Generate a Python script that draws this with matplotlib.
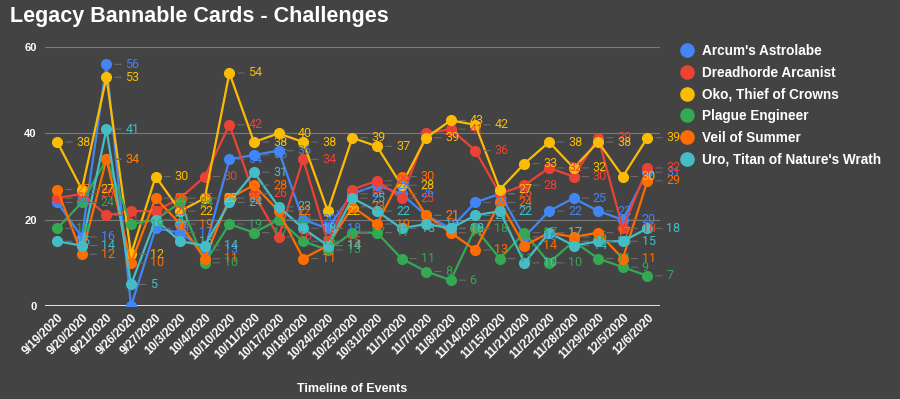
import matplotlib.pyplot as plt
from matplotlib.lines import Line2D

# event dates
dates = ['9/19/2020', '9/20/2020', '9/21/2020', '9/26/2020', '9/27/2020', '10/3/2020',
         '10/4/2020', '10/10/2020', '10/11/2020', '10/17/2020', '10/18/2020', '10/24/2020',
         '10/25/2020', '10/31/2020', '11/1/2020', '11/7/2020', '11/8/2020', '11/14/2020',
         '11/15/2020', '11/21/2020', '11/22/2020', '11/28/2020', '11/29/2020', '12/5/2020',
         '12/6/2020']

arcum = [24, 16, 56, 0, 18, 17, 13, 34, 35, 36, 20, 18, 26, 28, 26, 21, 18, 24, 26, 16, 22, 25, 22, 20, 31]
dreadhorde = [25, 26, 21, 22, 22, 25, 30, 42, 26, 16, 34, 15, 27, 29, 25, 40, 41, 36, 26, 28, 32, 30, 39, 18, 32]
oko = [38, 27, 53, 12, 30, 22, 25, 54, 38, 40, 38, 22, 39, 37, 28, 39, 43, 42, 27, 33, 38, 32, 38, 30, 39]
plague = [18, 24, 34, 19, 20, 24, 10, 19, 17, 20, 15, 13, 17, 17, 11, 8, 6, 18, 11, 17, 10, 15, 11, 9, 7]
veil = [27, 12, 34, 10, 25, 19, 11, 25, 28, 22, 11, 14, 23, 19, 30, 21, 17, 13, 24, 14, 17, 16, 17, 11, 29]
uro = [15, 14, 41, 5, 20, 15, 14, 24, 31, 23, 18, 14, 25, 22, 18, 19, 18, 21, 22, 10, 17, 14, 15, 15, 18]

names = ["Arcum's Astrolabe", 'Dreadhorde Arcanist', 'Oko, Thief of Crowns',
         'Plague Engineer', 'Veil of Summer', "Uro, Titan of Nature's Wrath"]
colors = ['#4285F4', '#EA4335', '#FBBC04', '#34A853', '#FF6D01', '#46BDC6']
series = [arcum, dreadhorde, oko, plague, veil, uro]

bg = '#434343'
plt.rcParams['font.family'] = ['Liberation Sans', 'DejaVu Sans']

fig = plt.figure(figsize=(9, 3.99), dpi=100, facecolor=bg)
ax = fig.add_axes([0.05, 0.233, 0.683, 0.649])
ax.set_facecolor(bg)

x = list(range(len(dates)))
for vals, c in zip(series, colors):
    ax.plot(x, vals, color=c, lw=1.6, marker='o', ms=7, zorder=3)
    for xi, v in zip(x, vals):
        if v == 0:
            continue  # label hidden under the axis in the original
        ax.annotate(str(v), (xi, v), xytext=(19, 0), textcoords='offset pixels',
                    ha='left', va='center', color=c, fontsize=9, family='Roboto',
                    arrowprops=dict(arrowstyle='-', color='#6a6a6a', lw=0.8,
                                    shrinkA=1, shrinkB=6),
                    zorder=4)

ax.set_xlim(-0.5, len(dates) - 0.5)
ax.set_ylim(0, 60)
ax.set_yticks([0, 20, 40, 60])
ax.set_xticks(x)
ax.set_xticklabels(dates, rotation=45, ha='right', rotation_mode='anchor',
                   fontsize=8.5, fontweight='bold', color='white')
for lab in ax.get_yticklabels():
    lab.set_fontweight('bold')
ax.tick_params(axis='y', colors='white', labelsize=8, length=0, pad=6)
ax.tick_params(axis='x', colors='white', length=0, pad=4)
for s in ax.spines.values():
    s.set_visible(False)
ax.grid(axis='y', color='#7a7a7a', lw=0.8, zorder=0)
ax.axhline(0, color='white', lw=1.2, zorder=2)
ax.set_xlabel('Timeline of Events', color='white', fontsize=9, fontweight='bold', labelpad=15)

fig.text(0.011, 0.958, 'Legacy Bannable Cards - Challenges', color='white',
         fontsize=15.5, fontweight='bold', va='center', ha='left')

handles = [Line2D([], [], ls='', marker='o', ms=9.5, color=c) for c in colors]
leg = fig.legend(handles, names, loc='upper left', bbox_to_anchor=(0.738, 0.92),
                 frameon=False, handletextpad=0.25, labelspacing=0.56,
                 handlelength=1.6, prop={'weight': 'bold', 'size': 9.8})
for t in leg.get_texts():
    t.set_color('white')

fig.savefig('out.png', dpi=100, facecolor=bg)
